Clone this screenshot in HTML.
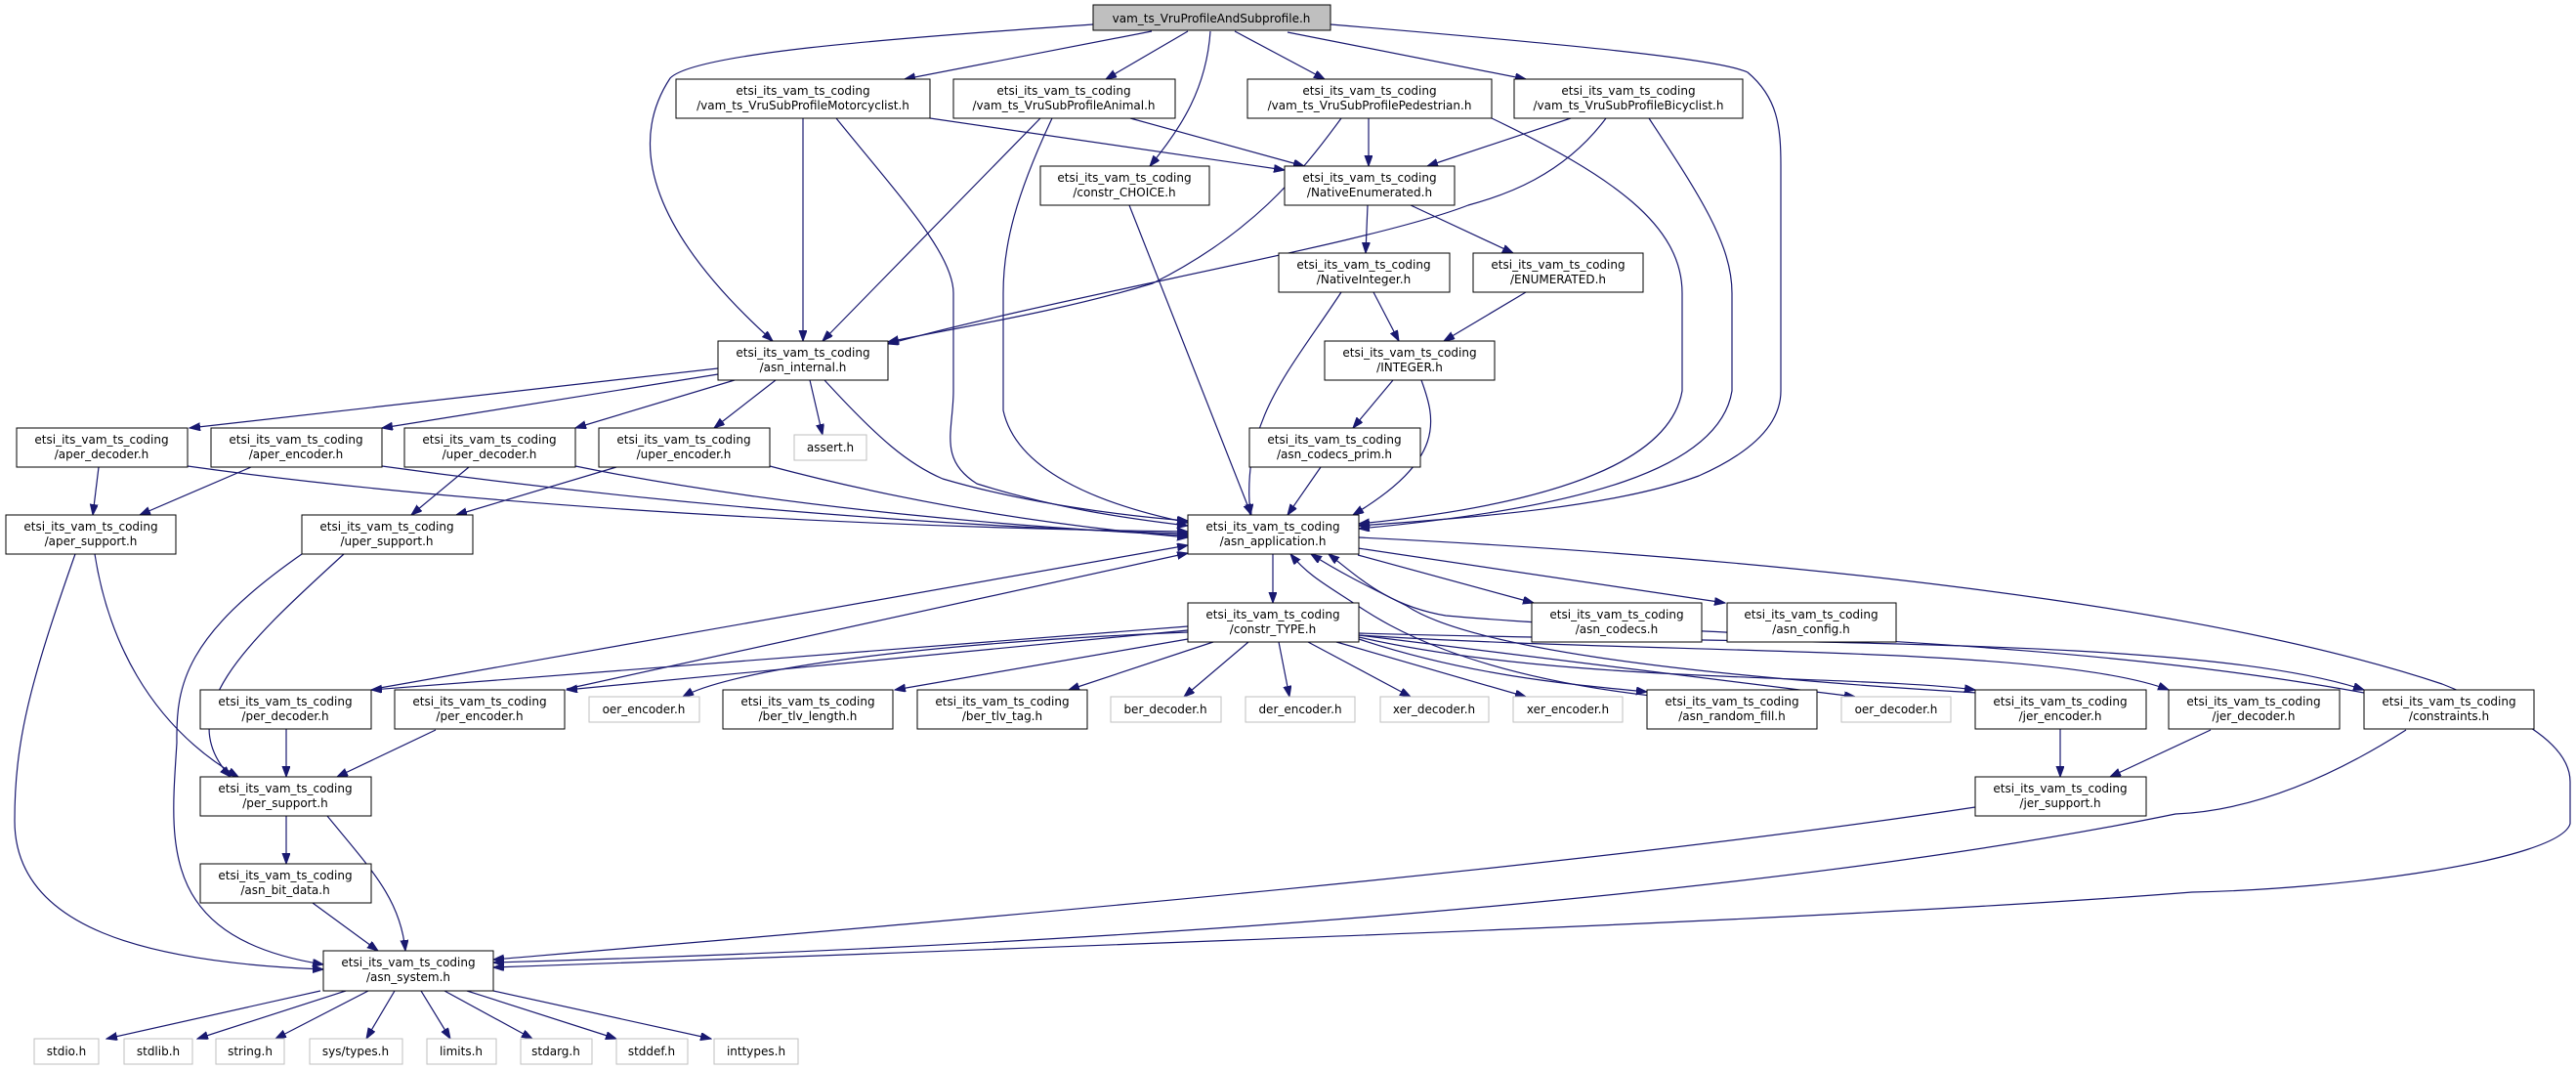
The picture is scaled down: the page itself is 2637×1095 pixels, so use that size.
<!DOCTYPE html>
<html><head><meta charset="utf-8"><style>
html,body{margin:0;padding:0;background:#fff}
svg{display:block}
text{font-family:"DejaVu Sans","Liberation Sans",sans-serif;font-size:12px;fill:#000;text-anchor:middle}
.e{fill:none;stroke:#191970;stroke-width:1.2}
.n{fill:#fff;stroke:#000;stroke-width:1}
.g{fill:#fff;stroke:#bfbfbf;stroke-width:1}
</style></head><body>
<svg width="2637" height="1095" viewBox="0 0 2637 1095" xmlns="http://www.w3.org/2000/svg">
<defs><marker id="a" markerUnits="userSpaceOnUse" markerWidth="12" markerHeight="10" refX="11" refY="4" orient="auto"><path d="M0,0 L11,4 L0,8 z" fill="#191970" stroke="#191970"/></marker></defs>
<g class="e" marker-end="url(#a)">
<path d="M1119,25 C900,40 710,55 686,80 C640,150 670,240 791,349"/>
<path d="M1179,32 L926,81"/>
<path d="M1216,32 L1132,81"/>
<path d="M1239,32 C1235,90 1210,130 1177,170"/>
<path d="M1264,32 L1356,81"/>
<path d="M1318,33 L1562,81"/>
<path d="M1362,25 C1600,45 1760,60 1789,74 C1820,100 1823,130 1823,170 L1823,400 C1823,430 1800,460 1739,487 C1650,520 1500,530 1391,538"/>
<path d="M822,121 L822,349"/>
<path d="M856,121 C920,200 976,260 976,300 L976,400 C976,440 960,470 1000,495 C1080,520 1150,530 1216,538"/>
<path d="M952,121 L1315,174"/>
<path d="M1065,121 L842,349"/>
<path d="M1077,121 C1040,200 1027,250 1027,300 L1027,420 C1040,480 1120,515 1216,535"/>
<path d="M1157,121 L1335,170"/>
<path d="M1401,121 L1401,170"/>
<path d="M1373,121 C1330,180 1280,240 1180,290 C1080,320 980,335 909,350"/>
<path d="M1527,121 C1650,180 1722,230 1722,300 L1722,400 C1710,470 1600,515 1391,536"/>
<path d="M1608,121 L1461,170"/>
<path d="M1644,121 C1600,180 1540,200 1503,210 C1400,250 1100,300 909,352"/>
<path d="M1688,121 C1740,200 1773,250 1773,300 L1773,400 C1760,480 1620,520 1391,541"/>
<path d="M1156,210 L1281,527"/>
<path d="M1400,210 L1398,259"/>
<path d="M1444,210 L1549,259"/>
<path d="M1406,299 L1432,349"/>
<path d="M1373,299 C1320,380 1270,430 1280,527"/>
<path d="M1562,299 L1478,349"/>
<path d="M1426,389 L1385,438"/>
<path d="M1455,389 C1470,430 1480,470 1385,527"/>
<path d="M1352,478 L1318,527"/>
<path d="M735,377 L194,438"/>
<path d="M735,383 L391,438"/>
<path d="M752,389 L589,438"/>
<path d="M794,389 L731,438"/>
<path d="M829,389 L842,445"/>
<path d="M844,389 C900,450 930,475 965,490 C1050,515 1150,528 1216,533"/>
<path d="M101,478 L95,527"/>
<path d="M192,477 C500,520 900,540 1216,544"/>
<path d="M257,478 L143,527"/>
<path d="M391,477 C700,520 1000,540 1216,546"/>
<path d="M480,478 L421,527"/>
<path d="M589,477 C800,520 1050,540 1216,548"/>
<path d="M631,478 L467,527"/>
<path d="M788,477 C950,520 1100,540 1216,550"/>
<path d="M97,567 C110,650 150,740 244,795"/>
<path d="M77,567 C30,700 15,760 15,840 C15,950 150,985 331,992"/>
<path d="M352,567 C250,660 175,730 236,795"/>
<path d="M309,567 C190,650 180,700 181,760 C175,860 160,960 331,987"/>
<path d="M1303,567 L1303,617"/>
<path d="M1390,568 L1570,617"/>
<path d="M1390,561 L1766,617"/>
<path d="M1391,550 C1800,570 2244,615 2500,700 C2600,740 2631,770 2631,800 L2631,843 C2620,880 2400,910 2244,913 C1900,940 1318,961 505,990"/>
<path d="M1216,641 L380,706"/>
<path d="M1216,645 L580,706"/>
<path d="M1216,647 C900,660 740,690 699,713"/>
<path d="M1216,654 L916,706"/>
<path d="M1242,657 L1094,706"/>
<path d="M1278,657 L1212,713"/>
<path d="M1309,657 L1320,713"/>
<path d="M1339,657 L1444,713"/>
<path d="M1368,657 L1562,713"/>
<path d="M1391,654 C1500,690 1600,700 1686,708"/>
<path d="M1391,650 L1899,713"/>
<path d="M1391,652 C1600,700 1900,690 2022,706"/>
<path d="M1391,650 C1700,670 2100,660 2220,706"/>
<path d="M1391,648 C1800,660 2250,650 2420,706"/>
<path d="M383,705 L1216,558"/>
<path d="M293,746 L293,795"/>
<path d="M580,705 L1216,566"/>
<path d="M446,747 L345,795"/>
<path d="M293,835 L293,884"/>
<path d="M335,835 C380,890 410,920 415,973"/>
<path d="M320,924 L387,973"/>
<path d="M1690,712 C1500,690 1420,640 1390,620 C1360,600 1340,590 1321,567"/>
<path d="M2024,709 C1700,690 1500,660 1440,620 C1400,600 1370,585 1342,567"/>
<path d="M2420,709 C2100,650 1700,650 1480,630 C1420,620 1390,590 1360,567"/>
<path d="M2109,746 L2109,795"/>
<path d="M2263,747 L2160,795"/>
<path d="M2022,826 C1600,890 1000,940 505,982"/>
<path d="M2463,747 C2380,800 2300,830 2227,833 C1900,900 1318,962 505,985"/>
<path d="M328,1014 L109,1063"/>
<path d="M354,1014 L202,1063"/>
<path d="M377,1014 L282,1063"/>
<path d="M404,1014 L375,1063"/>
<path d="M431,1014 L461,1063"/>
<path d="M455,1014 L545,1063"/>
<path d="M478,1014 L631,1063"/>
<path d="M505,1014 L728,1063"/>
</g>
<rect x="1119" y="5" width="243" height="26" fill="#bfbfbf" stroke="#000"/><text x="1240" y="23">vam_ts_VruProfileAndSubprofile.h</text>
<g>
<rect class="n" x="692" y="81" width="260" height="40"/><text x="822" y="97">etsi_its_vam_ts_coding</text><text x="822" y="112">/vam_ts_VruSubProfileMotorcyclist.h</text>
<rect class="n" x="976" y="81" width="227" height="40"/><text x="1089" y="97">etsi_its_vam_ts_coding</text><text x="1089" y="112">/vam_ts_VruSubProfileAnimal.h</text>
<rect class="n" x="1277" y="81" width="250" height="40"/><text x="1402" y="97">etsi_its_vam_ts_coding</text><text x="1402" y="112">/vam_ts_VruSubProfilePedestrian.h</text>
<rect class="n" x="1550" y="81" width="234" height="40"/><text x="1667" y="97">etsi_its_vam_ts_coding</text><text x="1667" y="112">/vam_ts_VruSubProfileBicyclist.h</text>
<rect class="n" x="1065" y="170" width="173" height="40"/><text x="1151" y="186">etsi_its_vam_ts_coding</text><text x="1151" y="201">/constr_CHOICE.h</text>
<rect class="n" x="1315" y="170" width="174" height="40"/><text x="1402" y="186">etsi_its_vam_ts_coding</text><text x="1402" y="201">/NativeEnumerated.h</text>
<rect class="n" x="1309" y="259" width="175" height="40"/><text x="1396" y="275">etsi_its_vam_ts_coding</text><text x="1396" y="290">/NativeInteger.h</text>
<rect class="n" x="1508" y="259" width="174" height="40"/><text x="1595" y="275">etsi_its_vam_ts_coding</text><text x="1595" y="290">/ENUMERATED.h</text>
<rect class="n" x="1356" y="349" width="174" height="40"/><text x="1443" y="365">etsi_its_vam_ts_coding</text><text x="1443" y="380">/INTEGER.h</text>
<rect class="n" x="735" y="349" width="174" height="40"/><text x="822" y="365">etsi_its_vam_ts_coding</text><text x="822" y="380">/asn_internal.h</text>
<rect class="n" x="1279" y="438" width="175" height="40"/><text x="1366" y="454">etsi_its_vam_ts_coding</text><text x="1366" y="469">/asn_codecs_prim.h</text>
<rect class="n" x="17" y="438" width="175" height="40"/><text x="104" y="454">etsi_its_vam_ts_coding</text><text x="104" y="469">/aper_decoder.h</text>
<rect class="n" x="216" y="438" width="175" height="40"/><text x="303" y="454">etsi_its_vam_ts_coding</text><text x="303" y="469">/aper_encoder.h</text>
<rect class="n" x="414" y="438" width="175" height="40"/><text x="501" y="454">etsi_its_vam_ts_coding</text><text x="501" y="469">/uper_decoder.h</text>
<rect class="n" x="613" y="438" width="175" height="40"/><text x="700" y="454">etsi_its_vam_ts_coding</text><text x="700" y="469">/uper_encoder.h</text>
<rect class="g" x="813" y="445" width="74" height="26"/><text x="850" y="462">assert.h</text>
<rect class="n" x="1216" y="527" width="175" height="40"/><text x="1303" y="543">etsi_its_vam_ts_coding</text><text x="1303" y="558">/asn_application.h</text>
<rect class="n" x="6" y="527" width="174" height="40"/><text x="93" y="543">etsi_its_vam_ts_coding</text><text x="93" y="558">/aper_support.h</text>
<rect class="n" x="309" y="527" width="175" height="40"/><text x="396" y="543">etsi_its_vam_ts_coding</text><text x="396" y="558">/uper_support.h</text>
<rect class="n" x="1216" y="617" width="175" height="40"/><text x="1303" y="633">etsi_its_vam_ts_coding</text><text x="1303" y="648">/constr_TYPE.h</text>
<rect class="n" x="1568" y="617" width="174" height="40"/><text x="1655" y="633">etsi_its_vam_ts_coding</text><text x="1655" y="648">/asn_codecs.h</text>
<rect class="n" x="1768" y="617" width="173" height="40"/><text x="1854" y="633">etsi_its_vam_ts_coding</text><text x="1854" y="648">/asn_config.h</text>
<rect class="n" x="205" y="706" width="175" height="40"/><text x="292" y="722">etsi_its_vam_ts_coding</text><text x="292" y="737">/per_decoder.h</text>
<rect class="n" x="404" y="706" width="174" height="40"/><text x="491" y="722">etsi_its_vam_ts_coding</text><text x="491" y="737">/per_encoder.h</text>
<rect class="g" x="603" y="713" width="113" height="26"/><text x="659" y="730">oer_encoder.h</text>
<rect class="n" x="740" y="706" width="174" height="40"/><text x="827" y="722">etsi_its_vam_ts_coding</text><text x="827" y="737">/ber_tlv_length.h</text>
<rect class="n" x="939" y="706" width="174" height="40"/><text x="1026" y="722">etsi_its_vam_ts_coding</text><text x="1026" y="737">/ber_tlv_tag.h</text>
<rect class="g" x="1137" y="713" width="113" height="26"/><text x="1193" y="730">ber_decoder.h</text>
<rect class="g" x="1275" y="713" width="112" height="26"/><text x="1331" y="730">der_encoder.h</text>
<rect class="g" x="1413" y="713" width="111" height="26"/><text x="1468" y="730">xer_decoder.h</text>
<rect class="g" x="1549" y="713" width="112" height="26"/><text x="1605" y="730">xer_encoder.h</text>
<rect class="n" x="1686" y="706" width="174" height="40"/><text x="1773" y="722">etsi_its_vam_ts_coding</text><text x="1773" y="737">/asn_random_fill.h</text>
<rect class="g" x="1885" y="713" width="112" height="26"/><text x="1941" y="730">oer_decoder.h</text>
<rect class="n" x="2022" y="706" width="175" height="40"/><text x="2109" y="722">etsi_its_vam_ts_coding</text><text x="2109" y="737">/jer_encoder.h</text>
<rect class="n" x="2220" y="706" width="175" height="40"/><text x="2307" y="722">etsi_its_vam_ts_coding</text><text x="2307" y="737">/jer_decoder.h</text>
<rect class="n" x="2420" y="706" width="174" height="40"/><text x="2507" y="722">etsi_its_vam_ts_coding</text><text x="2507" y="737">/constraints.h</text>
<rect class="n" x="205" y="795" width="175" height="40"/><text x="292" y="811">etsi_its_vam_ts_coding</text><text x="292" y="826">/per_support.h</text>
<rect class="n" x="2022" y="795" width="175" height="40"/><text x="2109" y="811">etsi_its_vam_ts_coding</text><text x="2109" y="826">/jer_support.h</text>
<rect class="n" x="205" y="884" width="175" height="40"/><text x="292" y="900">etsi_its_vam_ts_coding</text><text x="292" y="915">/asn_bit_data.h</text>
<rect class="n" x="331" y="973" width="174" height="41"/><text x="418" y="989">etsi_its_vam_ts_coding</text><text x="418" y="1004">/asn_system.h</text>
<rect class="g" x="35" y="1063" width="66" height="26"/><text x="68" y="1080">stdio.h</text>
<rect class="g" x="127" y="1063" width="70" height="26"/><text x="162" y="1080">stdlib.h</text>
<rect class="g" x="221" y="1063" width="70" height="26"/><text x="256" y="1080">string.h</text>
<rect class="g" x="317" y="1063" width="95" height="26"/><text x="364" y="1080">sys/types.h</text>
<rect class="g" x="437" y="1063" width="71" height="26"/><text x="472" y="1080">limits.h</text>
<rect class="g" x="533" y="1063" width="73" height="26"/><text x="569" y="1080">stdarg.h</text>
<rect class="g" x="631" y="1063" width="73" height="26"/><text x="667" y="1080">stddef.h</text>
<rect class="g" x="731" y="1063" width="86" height="26"/><text x="774" y="1080">inttypes.h</text>
</g>
</svg>
</body></html>
